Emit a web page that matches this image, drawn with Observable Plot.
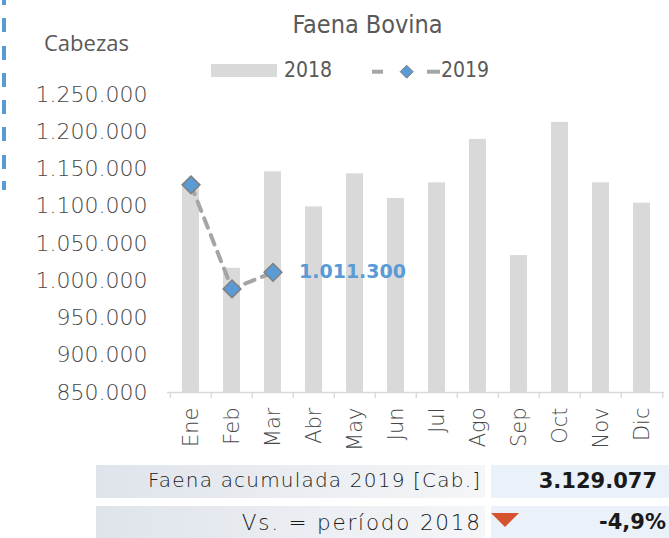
<!DOCTYPE html>
<html><head><meta charset="utf-8">
<script src="https://cdn.jsdelivr.net/npm/d3@7"></script>
<script src="https://cdn.jsdelivr.net/npm/@observablehq/plot@0.6"></script>
<style>
html,body{margin:0;padding:0;background:#fff;}
#chart{position:relative;width:669px;height:538px;overflow:hidden;}
.abs{position:absolute;white-space:nowrap;line-height:1;}
</style></head><body><div id="chart"></div>
<script>
// ---- data ----
const months = ["Ene","Feb","Mar","Abr","May","Jun","Jul","Ago","Sep","Oct","Nov","Dic"];
const faena2018 = [1127000, 1016700, 1146200, 1099100, 1143500, 1110400, 1131400, 1189700, 1033800, 1212600, 1131400, 1104100];
const faena2019 = [1128700, 989077, 1011300];
const yTicks = [850000, 900000, 950000, 1000000, 1050000, 1100000, 1150000, 1200000, 1250000];
const seriesNames = ["2018", "2019"];
const chartTitle = "Faena Bovina";
const yTitle = "Cabezas";
const summaryLabels = ["Faena acumulada 2019 [Cab.]", "Vs. = período 2018"];
const acumulado2019 = 3129077;
const variacion = -0.049;

// ---- layout ----
const W = 669, H = 538, ML = 167, MR = 5, MT = 94, MB = 146;
const yMin = yTicks[0], yMax = yTicks[yTicks.length - 1];
const step = (W - ML - MR) / months.length;
const unitsPerPx = (yMax - yMin) / (H - MT - MB);
const tickLen = 6;

const loc = d3.formatLocale({decimal: ",", thousands: ".", grouping: [3], currency: ["", ""], minus: "-"});
const fmt = loc.format(",d");
const fmtPct = loc.format(".1%");

const root = document.getElementById("chart");

const plot = Plot.plot({
  width: W, height: H,
  marginLeft: ML, marginRight: MR, marginTop: MT, marginBottom: MB,
  style: {fontFamily: "DejaVu Sans", fontSize: "22px", fontWeight: 300, color: "#474747", background: "transparent", overflow: "visible"},
  x: {domain: months, paddingInner: 0.59, paddingOuter: 0.295, label: null, axis: null},
  y: {domain: [yMin, yMax], label: null, axis: null},
  marks: [
    Plot.barY(months, {x: d => d, y1: yMin, y2: (d, i) => faena2018[i], fill: "#d9d9d9"}),
    Plot.ruleY([yMin], {stroke: "#d9d9d9", strokeWidth: 1.5}),
    Plot.ruleX(months, {x: d => d, dx: -step / 2, y1: yMin, y2: yMin - tickLen * unitsPerPx, stroke: "#d9d9d9", strokeWidth: 1.5}),
    Plot.ruleX([months[months.length - 1]], {x: d => d, dx: step / 2, y1: yMin, y2: yMin - tickLen * unitsPerPx, stroke: "#d9d9d9", strokeWidth: 1.5}),
    Plot.axisY(yTicks, {tickSize: 0, tickPadding: 20, tickFormat: fmt, fontSize: 22, fill: "#474747", label: null}),
    Plot.axisX({tickSize: 0, tickPadding: 15, tickRotate: -90, fontSize: 21, fill: "#474747", label: null}),
    Plot.lineY(faena2019, {x: (d, i) => months[i], y: d => d, stroke: "#a5a5a5", strokeWidth: 4, strokeDasharray: "10,8"}),
    Plot.dot(faena2019, {x: (d, i) => months[i], y: d => d, symbol: "diamond2", r: 8, fill: "#5b9bd5", stroke: "#7f7f7f", strokeWidth: 1.5}),
    Plot.text([faena2019[faena2019.length - 1]], {x: () => months[faena2019.length - 1], y: d => d, text: d => fmt(d), dx: 26, textAnchor: "start", fill: "#5b9bd5", fontWeight: "bold", fontSize: 19})
  ]
});
root.appendChild(plot);

function addDiv(text, css) {
  const el = document.createElement("div");
  el.className = "abs";
  el.textContent = text;
  Object.assign(el.style, css);
  root.appendChild(el);
  return el;
}

// dashed decoration on the left edge
addDiv("", {left: "2px", top: "0px", width: "4px", height: "190px",
  background: "repeating-linear-gradient(to bottom, #5b9bd5 0px, #5b9bd5 14px, transparent 14px, transparent 27.3px)",
  backgroundPosition: "0px -9px"});

// title and y title
addDiv(chartTitle, {left: "367.5px", top: "12px", transform: "translateX(-50%)", fontFamily: "'DejaVu Sans Condensed', 'DejaVu Sans'", fontSize: "25px", color: "#595959"});
addDiv(yTitle, {left: "44px", top: "31px", fontFamily: "'Open Sans'", fontSize: "22px", color: "#595959"});

// legend
addDiv("", {left: "211px", top: "64px", width: "66px", height: "13px", background: "#d9d9d9"});
addDiv(seriesNames[0], {left: "284px", top: "60px", fontFamily: "'DejaVu Sans Condensed', 'DejaVu Sans'", fontSize: "21px", color: "#595959"});
const lg = document.createElementNS("http://www.w3.org/2000/svg", "svg");
lg.setAttribute("width", "76"); lg.setAttribute("height", "24");
Object.assign(lg.style, {position: "absolute", left: "368px", top: "60px"});
lg.innerHTML = '<line x1="4" x2="15" y1="11.7" y2="11.7" stroke="#a5a5a5" stroke-width="4"/>' +
  '<line x1="59" x2="72" y1="11.7" y2="11.7" stroke="#a5a5a5" stroke-width="4"/>' +
  '<path d="M38.7,5.2L45.2,11.7L38.7,18.2L32.2,11.7Z" fill="#5b9bd5" stroke="#7f7f7f" stroke-width="1"/>';
root.appendChild(lg);
addDiv(seriesNames[1], {left: "441px", top: "60px", fontFamily: "'DejaVu Sans Condensed', 'DejaVu Sans'", fontSize: "21px", color: "#595959"});

// summary table
const leftBg = "linear-gradient(to right, #dfe4eb, #f4f6f8)";
const rightBg = "#eaf1f9";
addDiv("", {left: "96px", top: "465px", width: "389px", height: "33px", background: leftBg});
addDiv("", {left: "491px", top: "465px", width: "178px", height: "33px", background: rightBg});
addDiv("", {left: "96px", top: "506px", width: "389px", height: "32px", background: leftBg});
addDiv("", {left: "491px", top: "506px", width: "178px", height: "32px", background: rightBg});
addDiv(summaryLabels[0], {right: "187.8px", top: "470px", fontFamily: "'DejaVu Sans'", fontWeight: 300, fontSize: "20px", letterSpacing: "1.2px", color: "#1a1a1a"});
addDiv(summaryLabels[1], {right: "187.2px", top: "511.5px", fontFamily: "'DejaVu Sans'", fontWeight: 300, fontSize: "21.5px", letterSpacing: "1.8px", color: "#1a1a1a"});
addDiv(fmt(acumulado2019), {right: "12px", top: "470.5px", fontFamily: "'DejaVu Sans'", fontWeight: "bold", fontSize: "21px", color: "#1a1a1a"});
addDiv(fmtPct(variacion), {right: "3px", top: "512px", fontFamily: "'DejaVu Sans'", fontWeight: "bold", fontSize: "21px", color: "#1a1a1a"});
addDiv("", {left: "491px", top: "513px", width: "0px", height: "0px",
  borderLeft: "14.5px solid transparent", borderRight: "14.5px solid transparent", borderTop: "14px solid #d6532f"});
</script></body></html>
